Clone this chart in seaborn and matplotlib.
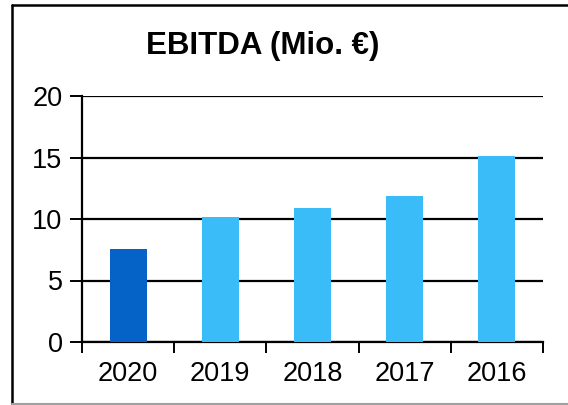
import matplotlib
matplotlib.use("Agg")
import matplotlib.pyplot as plt
import numpy as np
import pandas as pd
import seaborn as sns
from matplotlib.lines import Line2D

years = ["2020", "2019", "2018", "2017", "2016"]
ebitda = [7.6, 10.2, 10.9, 11.9, 15.1]
bar_colors = ["#0563C8", "#3ABCF8", "#3ABCF8", "#3ABCF8", "#3ABCF8"]
y_ticks = [0, 5, 10, 15, 20]

df = pd.DataFrame({"Jahr": years, "EBITDA": ebitda})

sns.set_theme(style="white", rc={"text.color": "black", "xtick.color": "black",
                                 "ytick.color": "black"})
plt.rcParams["font.family"] = ["Liberation Sans", "DejaVu Sans"]

fig = plt.figure(figsize=(5.68, 4.05), dpi=100)
ax = fig.add_axes([82 / 568, 63 / 405, 461 / 568, 246 / 405])

sns.barplot(data=df, x="Jahr", y="EBITDA", hue="Jahr", palette=bar_colors,
            legend=False, width=0.4, saturation=1, linewidth=0, ax=ax, zorder=3)

ax.set_xlim(-0.5, 4.5)
ax.set_ylim(0, 20)
ax.set_yticks(y_ticks)
ax.set_xlabel("")
ax.set_ylabel("")

# gridlines in black
ax.yaxis.grid(True, color="black", linewidth=1.6, zorder=1)
ax.set_axisbelow(True)

for side in ["top", "right"]:
    ax.spines[side].set_visible(False)
for side in ["left", "bottom"]:
    ax.spines[side].set_color("black")
    ax.spines[side].set_linewidth(1.6)

ax.tick_params(axis="y", direction="out", length=9, width=1.4, color="black",
               labelcolor="black", labelsize=19.5, pad=5, left=True)
ax.tick_params(axis="x", which="major", length=0, labelsize=19.5,
               labelcolor="black", pad=14)
ax.set_xticks(np.arange(-0.5, 5, 1), minor=True)
ax.tick_params(axis="x", which="minor", direction="out", length=8, width=1.4,
               color="black", bottom=True)

fig.text(263 / 568, 1 - 46 / 405, "EBITDA (Mio. €)", ha="center", va="center",
         fontsize=22.5, fontweight="bold", color="black")

# outer frame
fig.add_artist(Line2D([11.5 / 568, 11.5 / 568], [0, 1 - 5 / 405],
                      transform=fig.transFigure, color="black", linewidth=1.8))
fig.add_artist(Line2D([11.5 / 568, 1], [1 - 5 / 405, 1 - 5 / 405],
                      transform=fig.transFigure, color="black", linewidth=1.8))
fig.add_artist(Line2D([11.5 / 568, 1], [1 / 405, 1 / 405],
                      transform=fig.transFigure, color="#a0a0a0", linewidth=1.5))

fig.savefig("out.png", dpi=100)
